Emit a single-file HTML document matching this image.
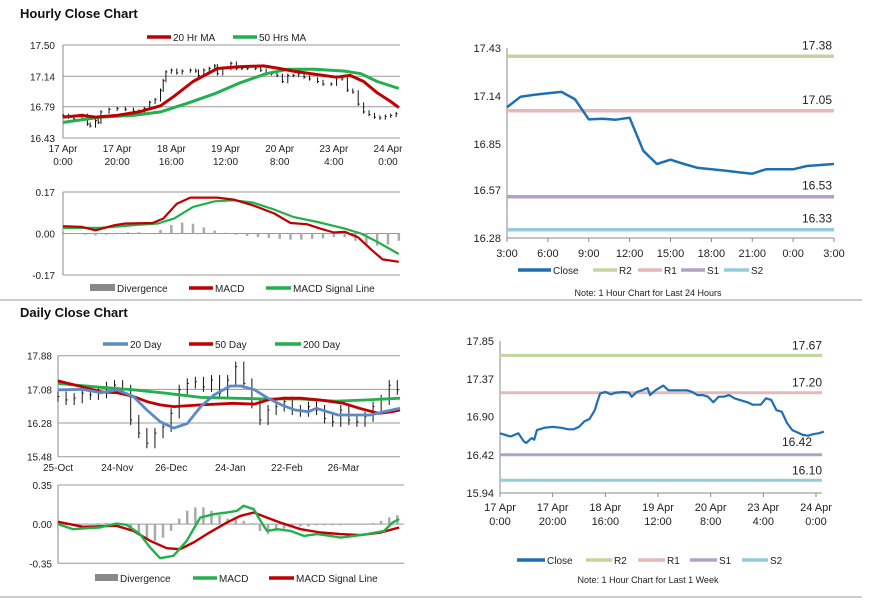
<!DOCTYPE html>
<html><head><meta charset="utf-8"><style>
body{margin:0;background:#fff;width:873px;height:601px;overflow:hidden;font-family:"Liberation Sans",Arial,sans-serif}
svg{position:absolute;left:0;top:0}
text{font-family:"Liberation Sans",Arial,sans-serif;font-size:10px;fill:#222}
.t{font-size:13px;font-weight:bold;fill:#111}
</style></head><body>
<svg id="s" width="873" height="601" xmlns="http://www.w3.org/2000/svg">
<text class="t" x="20" y="18">Hourly Close Chart</text>
<text class="t" x="20" y="317">Daily Close Chart</text>
<line x1="0" y1="300" x2="862" y2="300" stroke="#999" stroke-width="1"/>
<line x1="0" y1="597" x2="862" y2="597" stroke="#999" stroke-width="1"/>
</svg>
<script>
// ---- Hourly (top-left) ----
const hTicksY=[17.50,17.14,16.79,16.43];
const hXLabels=[["17 Apr","0:00"],["17 Apr","20:00"],["18 Apr","16:00"],["19 Apr","12:00"],["20 Apr","8:00"],["23 Apr","4:00"],["24 Apr","0:00"]];
const hXHours=[0,20,40,60,80,100,120];
const weekHours=[0,2,4,7,9,10,12,13,14,17,20,23,26,28,30,32,34,36,37,38,40,42,44,47,49,50,52,54,56,57,59,62,64,66,68,71,73,75,77,79,81,83,85,87,89,91,94,96,99,101,103,105,107,109,111,113,115,117,119,121,123];
const weekClose=[16.69,16.67,16.65,16.69,16.59,16.57,16.63,16.61,16.73,16.76,16.77,16.76,16.74,16.74,16.77,16.84,16.87,16.98,17.09,17.19,17.21,17.18,17.20,17.21,17.20,17.15,17.21,17.23,17.26,17.17,17.23,17.29,17.23,17.23,17.23,17.23,17.21,17.17,17.17,17.15,17.08,17.15,17.15,17.17,17.13,17.11,17.08,17.05,17.05,17.13,17.11,16.98,16.96,16.82,16.73,16.70,16.67,16.66,16.68,16.69,16.71];
const ma20Hours=[0,7,12,20,28,36,41,48,57,65,74,80,85,94,101,106,111,116,121,124];
const ma20=[16.67,16.69,16.67,16.69,16.73,16.80,16.91,17.08,17.23,17.25,17.26,17.23,17.20,17.16,17.13,17.15,17.08,16.95,16.85,16.78];
const ma50Hours=[0,14,26,36,46,56,65,75,83,93,104,110,116,124];
const ma50=[16.61,16.67,16.69,16.73,16.83,16.94,17.06,17.17,17.22,17.22,17.20,17.17,17.08,17.00];
const hMacdTicks=[0.17,0.00,-0.17];
const hMacdHours=[0,7,12,19,23,33,37,42,47,57,63,70,78,84,90,95,100,104,109,114,118,124];
const hMacd=[0.030,0.027,0.013,0.034,0.041,0.043,0.061,0.122,0.147,0.147,0.139,0.116,0.082,0.043,0.038,0.020,0.004,0.007,-0.016,-0.068,-0.106,-0.116];
const hSigHours=[0,14,26,35,41,48,56,63,70,78,85,94,104,110,116,124];
const hSig=[0.023,0.023,0.034,0.041,0.061,0.109,0.132,0.136,0.127,0.098,0.068,0.047,0.020,0.0,-0.034,-0.084];
const hDivHours=[0,4,8,12,16,20,24,28,32,36,40,44,48,52,56,60,64,68,72,76,80,84,88,92,96,100,104,108,112,116,120,124];
const hDiv=[0.005,0,-0.005,-0.008,-0.005,0.003,0.005,0.005,0.002,0.015,0.035,0.045,0.04,0.025,0.012,0.003,-0.005,-0.01,-0.015,-0.018,-0.022,-0.025,-0.025,-0.022,-0.02,-0.015,-0.015,-0.03,-0.045,-0.05,-0.045,-0.03];
// ---- Last 24 hours (top-right) ----
const dayLabels=["3:00","6:00","9:00","12:00","15:00","18:00","21:00","0:00","3:00"];
const dayTicks=[17.43,17.14,16.85,16.57,16.28];
const dayClose=[17.071,17.135,17.147,17.156,17.164,17.119,16.998,17.002,16.996,17.008,16.808,16.728,16.754,16.728,16.704,16.696,16.688,16.678,16.669,16.696,16.696,16.696,16.716,16.722,16.728];
const dayLevels=[17.38,17.05,16.53,16.33];
// ---- Last week (bottom-right) ----
const wkTicks=[17.85,17.37,16.90,16.42,15.94];
const wkLevels=[17.67,17.20,16.42,16.10];
// ---- Daily (bottom-left) ----
const dTicksY=[17.88,17.08,16.28,15.48];
const dXLabels=["25-Oct","24-Nov","26-Dec","24-Jan","22-Feb","26-Mar"];
const dXDays=[0,22,42,64,85,106];
const dCloseDays=[0,3,6,9,12,15,18,21,24,27,30,33,36,39,42,45,48,51,54,57,60,63,66,69,72,75,78,81,84,87,90,93,96,99,102,105,108,111,114,117,120,123,126];
const dClose=[16.91,16.83,16.87,16.99,16.95,16.99,17.14,17.18,17.07,16.35,16.04,15.80,16.04,16.19,16.51,17.07,17.22,17.26,17.14,17.30,16.99,17.30,17.62,17.22,16.75,16.35,16.59,16.67,16.79,16.59,16.55,16.67,16.59,16.39,16.31,16.59,16.35,16.31,16.43,16.67,16.83,17.18,17.07];
const d20Days=[0,9,16,22,28,33,38,43,48,53,58,64,68,73,78,83,88,93,96,100,104,110,116,121,127];
const d20=[17.07,17.08,17.00,17.07,16.91,16.59,16.31,16.16,16.27,16.67,16.95,17.16,17.16,17.07,16.87,16.71,16.59,16.55,16.63,16.55,16.47,16.47,16.47,16.55,16.63];
const d50Days=[0,9,16,22,28,33,38,43,53,65,73,78,84,90,97,106,112,119,124,127];
const d50=[17.28,17.14,17.02,17.00,16.91,16.79,16.71,16.67,16.71,16.75,16.73,16.83,16.87,16.87,16.83,16.75,16.63,16.51,16.55,16.59];
const d200Days=[0,16,28,40,53,65,78,90,103,115,127];
const d200=[17.22,17.13,17.07,16.99,16.89,16.87,16.85,16.85,16.80,16.83,16.87];
const dMacdTicks=[0.35,0.00,-0.35];
const dMacdDays=[0,5.6,10.6,15.5,21.7,25.5,30.4,34.2,37.9,42.9,47.8,52.8,57.8,62.7,66.5,68.9,72.7,75.2,77.6,81.4,86.3,91.3,96.3,101.2,104.9,109.9,114.9,121.1,124.2,126.7];
const dMacd=[0.0,-0.045,-0.036,-0.030,0.005,-0.006,-0.089,-0.209,-0.304,-0.283,-0.149,0.059,0.089,0.104,0.119,0.164,0.134,0.029,-0.060,-0.045,-0.060,-0.105,-0.089,-0.105,-0.120,-0.105,-0.089,-0.060,0.014,0.045];
const dSigDays=[0,9.3,21.7,28,34.2,40.4,45.3,50.3,55.3,62.7,67.7,72.7,77.6,82.6,90.1,97.5,104.9,112.3,119.8,126.7];
const dSig=[0.021,-0.024,-0.015,-0.060,-0.149,-0.215,-0.224,-0.164,-0.089,0.014,0.074,0.104,0.059,0.014,-0.045,-0.075,-0.089,-0.098,-0.075,-0.030];
const dDivDays=[0,3,6,9,12,15,18,21,24,27,30,33,36,39,42,45,48,51,54,57,60,63,66,69,72,75,78,81,84,87,90,93,96,99,102,105,108,111,114,117,120,123,126];
const dDiv=[0.01,-0.01,-0.01,0,0,0.01,0.01,0.01,0,-0.04,-0.1,-0.14,-0.15,-0.12,-0.06,0.05,0.12,0.15,0.15,0.12,0.08,0.05,0.04,0.03,0.01,-0.06,-0.09,-0.06,-0.04,-0.02,-0.02,-0.02,-0.01,-0.01,-0.01,-0.01,0,0,0,0.01,0.03,0.06,0.08];

const S=document.getElementById('s');const NS='http://www.w3.org/2000/svg';
function mk(tag,attrs,name){const e=document.createElementNS(NS,tag);for(const k in attrs)e.setAttribute(k,attrs[k]);


S.appendChild(e);return e;}
function txt(x,y,s,anchor,name,size){const e=mk('text',{x:x,y:y,'text-anchor':anchor||'start'},name);if(size)e.style.fontSize=size+'px';e.textContent=s;return e;}
function lin(d0,d1,r0,r1){return v=>r0+(v-d0)/(d1-d0)*(r1-r0);}
function path(xs,ys,X,Y,color,w,name){let d='';xs.forEach((x,i)=>{d+=(i?'L':'M')+X(x).toFixed(1)+','+Y(ys[i]).toFixed(1);});
return mk('path',{d:d,fill:'none',stroke:color,'stroke-width':w,'stroke-linejoin':'round'},name);}
function legend(items,y){items.forEach(it=>{
 if(it.box) mk('rect',{x:it.x,y:y-4,width:it.w,height:7,fill:'#888'},'legend-swatch-'+it.n);
 else mk('line',{x1:it.x,y1:y,x2:it.x+it.w,y2:y,stroke:it.c,'stroke-width':3.5},'legend-swatch-'+it.n);
 txt(it.x+it.w+2,y+4,it.label,'start','legend-entry-'+it.n);});}
function hgrid(ticks,Y,x0,x1,lx,fmt,name,color){ticks.forEach(t=>{
 mk('line',{x1:x0,y1:Y(t),x2:x1,y2:Y(t),stroke:color||'#999','stroke-width':1},name+'-gridline');
 txt(lx,Y(t)+4,fmt(t),'end',name+'-tick-label');});
 mk('line',{x1:x0,y1:Y(ticks[0]),x2:x0,y2:Y(ticks[ticks.length-1]),stroke:'#888','stroke-width':1},name+'-axis');}
function bars(xs,vals,X,Y,rng,name){xs.forEach((x,i)=>{const prev=i?vals[i-1]:vals[i];
 const lo=Math.min(prev,vals[i])-rng,hi=Math.max(prev,vals[i])+rng;
 mk('line',{x1:X(x),y1:Y(hi),x2:X(x),y2:Y(lo),stroke:'#111','stroke-width':1},name);
 mk('line',{x1:X(x),y1:Y(vals[i]),x2:X(x)+1.5,y2:Y(vals[i]),stroke:'#111','stroke-width':1},name+'-tick');});}
function hist(xs,vals,X,Y,w,color,name){xs.forEach((x,i)=>{const y0=Y(0),y1=Y(vals[i]);
 mk('rect',{x:X(x)-w/2,y:Math.min(y0,y1),width:w,height:Math.abs(y1-y0)||0.5,fill:color},name);});}

// Hourly price
{const X=lin(0,120,63,388),Y=lin(17.50,16.43,45,138);
 hgrid(hTicksY,Y,63,400,55,v=>v.toFixed(2),'hourly-price','#999');
 hXHours.forEach((h,i)=>{txt(X(h),152,hXLabels[i][0],'middle','hourly-x-label');txt(X(h),165,hXLabels[i][1],'middle','hourly-x-label');});
 bars(weekHours,weekClose,X,Y,0.02,'hourly-price-bar');
 path(ma50Hours,ma50,X,Y,'#22b04c',3,'ma50-line');
 path(ma20Hours,ma20,X,Y,'#c00000',3,'ma20-line');
 legend([{x:147,w:24,c:'#c00000',label:'20 Hr MA',n:'ma20'},{x:233,w:24,c:'#22b04c',label:'50 Hrs MA',n:'ma50'}],37);
}
// Hourly MACD
{const X=lin(0,120,63,388),Y=lin(0.17,-0.17,192,275);
 hgrid(hMacdTicks,Y,63,400,55,v=>v.toFixed(2),'hourly-macd','#999');
 hist(hDivHours,hDiv,X,Y,2.5,'#aaa','hourly-divergence-bar');
 path(hSigHours,hSig,X,Y,'#22b04c',2.2,'hourly-signal-line');
 path(hMacdHours,hMacd,X,Y,'#c00000',2.2,'hourly-macd-line');
 legend([{x:90,w:25,box:1,label:'Divergence',n:'divergence'},{x:189,w:24,c:'#c00000',label:'MACD',n:'macd'},{x:266,w:25,c:'#22b04c',label:'MACD Signal Line',n:'signal'}],288);
}
// Last 24h
{const X=lin(0,24,507,834),Y=lin(17.43,16.28,48,238);
 dayTicks.forEach(t=>txt(501,Y(t)+4,t.toFixed(2),'end','day-tick-label',11));
 mk('line',{x1:507,y1:48,x2:507,y2:238,stroke:'#888'},'day-y-axis');
 mk('line',{x1:507,y1:238,x2:834,y2:238,stroke:'#888'},'day-x-axis');
 const cols=['#c3d69b','#e6b9b8','#b3a2c7','#93cddd'];const nm=['r2','r1','s1','s2'];
 dayLevels.forEach((v,i)=>{mk('line',{x1:507,y1:Y(v),x2:834,y2:Y(v),stroke:cols[i],'stroke-width':3.5},'day-level-'+nm[i]);
  txt(832,Y(v)-7,v.toFixed(2),'end','day-level-label-'+nm[i],12);});
 dayLabels.forEach((l,i)=>{mk('line',{x1:X(i*3),y1:238,x2:X(i*3),y2:242,stroke:'#888'},'day-x-tick');txt(X(i*3),257,l,'middle','day-x-label',11);});
 path(dayClose.map((_,i)=>i),dayClose,X,Y,'#1f6fb5',2.5,'day-close-line');
 legend([{x:518,w:33,c:'#1f6fb5',label:'Close',n:'close'},{x:593,w:24,c:'#c3d69b',label:'R2',n:'r2'},{x:638,w:24,c:'#e6b9b8',label:'R1',n:'r1'},{x:681,w:24,c:'#b3a2c7',label:'S1',n:'s1'},{x:724,w:25,c:'#93cddd',label:'S2',n:'s2'}],270);
 txt(648,296,'Note: 1 Hour Chart for Last 24 Hours','middle','day-note',9);
}
// Last week
{const X=lin(0,120,500,816),Y=lin(17.85,15.94,341,493);
 wkTicks.forEach(t=>txt(494,Y(t)+4,t.toFixed(2),'end','week-tick-label',11));
 mk('line',{x1:500,y1:341,x2:500,y2:493,stroke:'#888'},'week-y-axis');
 mk('line',{x1:500,y1:493,x2:822,y2:493,stroke:'#888'},'week-x-axis');
 const cols=['#c3d69b','#e6b9b8','#b3a2c7','#93cddd'];const nm=['r2','r1','s1','s2'];
 wkLevels.forEach((v,i)=>{mk('line',{x1:500,y1:Y(v),x2:822,y2:Y(v),stroke:cols[i],'stroke-width':3},'week-level-'+nm[i]);
  if(nm[i]==='s1') txt(812,Y(v)-9,v.toFixed(2),'end','week-level-label-'+nm[i],12);
  else txt(822,Y(v)-6,v.toFixed(2),'end','week-level-label-'+nm[i],12);});
 hXHours.forEach((h,i)=>{mk('line',{x1:X(h),y1:493,x2:X(h),y2:497,stroke:'#888'},'week-x-tick');
  txt(X(h),511,hXLabels[i][0],'middle','week-x-label',11);txt(X(h),525,hXLabels[i][1],'middle','week-x-label',11);});
 path(weekHours,weekClose,X,Y,'#1f6fb5',2.2,'week-close-line');
 legend([{x:517,w:28,c:'#1f6fb5',label:'Close',n:'close'},{x:586,w:26,c:'#c3d69b',label:'R2',n:'r2'},{x:638,w:27,c:'#e6b9b8',label:'R1',n:'r1'},{x:690,w:27,c:'#b3a2c7',label:'S1',n:'s1'},{x:742,w:26,c:'#93cddd',label:'S2',n:'s2'}],560);
 txt(648,583,'Note: 1 Hour Chart for Last 1 Week','middle','week-note',9);
}
// Daily price
{const X=lin(0,127,58,400),Y=lin(17.88,15.48,355.7,456.7);
 hgrid(dTicksY,Y,58,400,52,v=>v.toFixed(2),'daily-price','#999');
 dXDays.forEach((d,i)=>{txt(X(d),471,dXLabels[i],'middle','daily-x-label');});
 bars(dCloseDays,dClose,X,Y,0.12,'daily-price-bar');
 path(d200Days,d200,X,Y,'#22b04c',2.8,'ma200-line');
 path(d50Days,d50,X,Y,'#c00000',2.8,'ma50d-line');
 path(d20Days,d20,X,Y,'#5b8bc6',2.8,'ma20d-line');
 legend([{x:103,w:25,c:'#5b8bc6',label:'20 Day',n:'ma20d'},{x:189,w:24,c:'#c00000',label:'50 Day',n:'ma50d'},{x:275,w:26,c:'#22b04c',label:'200 Day',n:'ma200'}],344);
}
// Daily MACD
{const X=lin(0,127,58,400),Y=lin(0.35,-0.35,485,563.3);
 hgrid(dMacdTicks,Y,58,404,52,v=>v.toFixed(2),'daily-macd','#999');
 hist(dDivDays,dDiv,X,Y,2.5,'#aaa','daily-divergence-bar');
 path(dSigDays,dSig,X,Y,'#c00000',2.4,'daily-signal-line');
 path(dMacdDays,dMacd,X,Y,'#22b04c',2.4,'daily-macd-line');
 legend([{x:95,w:23,box:1,label:'Divergence',n:'ddivergence'},{x:193,w:24,c:'#22b04c',label:'MACD',n:'dmacd'},{x:269,w:25,c:'#c00000',label:'MACD Signal Line',n:'dsignal'}],578);
}
</script>
</body></html>
